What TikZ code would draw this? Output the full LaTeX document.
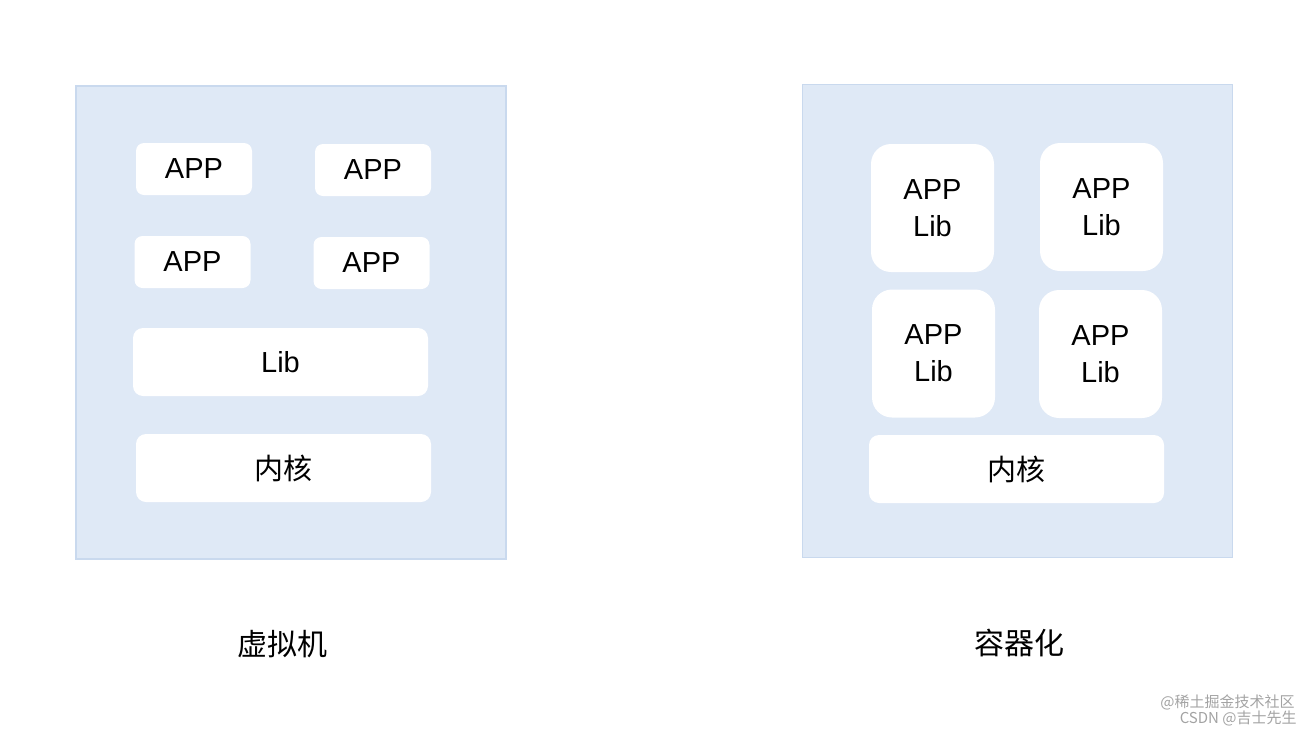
\documentclass[tikz,border=0pt]{standalone}
\usepackage{fontspec}
\setmainfont{Liberation Sans}
\newfontfamily\cjk{Noto Sans CJK SC}
\usetikzlibrary{positioning}
\definecolor{Panel}{HTML}{DFE9F6}
\definecolor{PanelEdge}{HTML}{C9D9EE}
\definecolor{Mark}{HTML}{A3A3A3}
\tikzset{
    panel/.style={rectangle, fill=Panel, draw=PanelEdge, line width=0.6pt, minimum width=215pt, minimum height=236.5pt},
    appbox/.style={rectangle, rounded corners=4pt, fill=white, minimum width=58pt, minimum height=26pt, font=\fontsize{14.5}{18.5}\selectfont},
    widebox/.style={rectangle, rounded corners=5pt, fill=white, minimum width=147.5pt, minimum height=34pt, font=\fontsize{14.5}{18.5}\selectfont},
    stackbox/.style={rectangle, rounded corners=10pt, fill=white, minimum width=61.5pt, minimum height=64pt, align=center, font=\fontsize{14.5}{18.5}\selectfont},
    caption/.style={font=\cjk\fontsize{15}{18}\selectfont},
    watermark/.style={anchor=east, text=Mark, font=\cjk\fontsize{7.5}{8}\selectfont, inner sep=0pt},
}
\begin{document}
\begin{tikzpicture}[x=0.5pt, y=-0.5pt]
                \useasboundingbox (0,0) rectangle (1314,734);

                % Virtual machine
                \node[panel] (vm) at (291,322.5) {};
                \node[appbox] (vmappa) at (194,169) {APP};
                \node[appbox] (vmappb) at (373,170) {APP};
                \node[appbox] (vmappc) at (192.5,262) {APP};
                \node[appbox] (vmappd) at (371.5,263) {APP};
                \node[widebox] (vmlib) at (280.5,362) {Lib};
                \node[widebox, font=\cjk\fontsize{14.5}{18.5}\selectfont] (vmkernel) at (283.5,468) {内核};
                \node[caption] (vmname) at (282,644) {虚拟机};

                % Containers
                \node[panel] (ct) at (1017.5,321) {};
                \node[stackbox] (ctappa) at (932.5,208) {APP\\Lib};
                \node[stackbox] (ctappb) at (1101.5,207) {APP\\Lib};
                \node[stackbox] (ctappc) at (933.5,353.5) {APP\\Lib};
                \node[stackbox] (ctappd) at (1100.5,354) {APP\\Lib};
                \node[widebox, font=\cjk\fontsize{14.5}{18.5}\selectfont] (ctkernel) at (1016.5,469) {内核};
                \node[caption] (ctname) at (1019,643) {容器化};

                % watermark
                \node[watermark] (wma) at (1295,702) {@稀土掘金技术社区};
                \node[watermark] (wmb) at (1297,718) {CSDN @吉士先生};
            \end{tikzpicture}
\end{document}
